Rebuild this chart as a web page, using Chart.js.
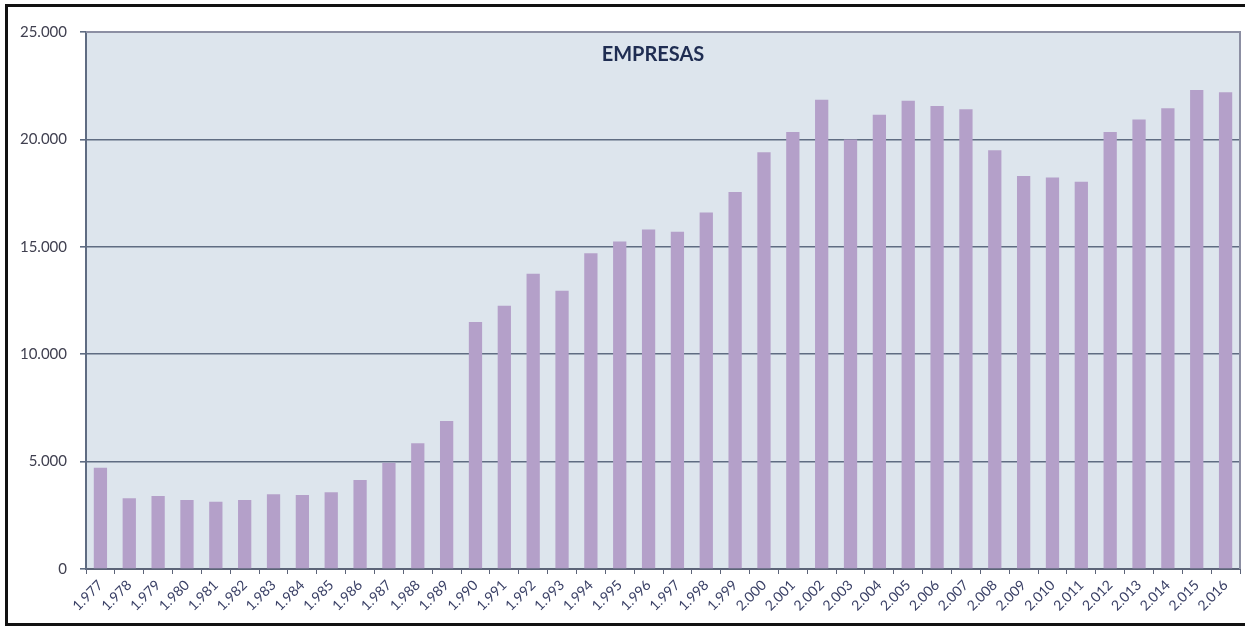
<!DOCTYPE html>
<html>
<head>
<meta charset="utf-8">
<script src="https://cdn.jsdelivr.net/npm/chart.js@4/dist/chart.umd.min.js"></script>
<style>
html,body{margin:0;padding:0;background:#fff;}
#wrap{width:1245px;height:627px;position:relative;}
</style>
</head>
<body>
<div id="wrap"><canvas id="c" width="1245" height="627"></canvas></div>
<script>
const years = ["1.977","1.978","1.979","1.980","1.981","1.982","1.983","1.984","1.985","1.986",
  "1.987","1.988","1.989","1.990","1.991","1.992","1.993","1.994","1.995","1.996",
  "1.997","1.998","1.999","2.000","2.001","2.002","2.003","2.004","2.005","2.006",
  "2.007","2.008","2.009","2.010","2.011","2.012","2.013","2.014","2.015","2.016"];
const empresas = [4715,3290,3400,3210,3135,3210,3475,3445,3570,4140,
  4950,5850,6890,11500,12250,13750,12950,14700,15250,15800,
  15700,16600,17550,19400,20350,21850,20000,21150,21800,21550,
  21400,19500,18300,18230,18030,20350,20930,21450,22300,22190];
const titleText = "EMPRESAS";

const bgPlugin = {
  id: 'bg',
  beforeDraw(chart) {
    const {ctx, chartArea: a} = chart;
    ctx.save();
    ctx.fillStyle = '#dde5ed';
    ctx.fillRect(a.left, a.top, a.right - a.left, a.bottom - a.top);
    ctx.restore();
  },
  afterDraw(chart) {
    const {ctx, chartArea: a} = chart;
    ctx.save();
    ctx.strokeStyle = '#8c8fa3';
    ctx.lineWidth = 2;
    ctx.beginPath();
    ctx.moveTo(a.left, a.top);
    ctx.lineTo(a.right, a.top);
    ctx.lineTo(a.right, a.bottom);
    ctx.stroke();
    ctx.fillStyle = '#1f2d52';
    ctx.font = 'bold 20px Lato, "Open Sans", sans-serif';
    ctx.textAlign = 'center';
    ctx.textBaseline = 'middle';
    ctx.fillText(titleText, 653, 55);
    ctx.strokeStyle = '#111';
    ctx.lineWidth = 3;
    ctx.beginPath();
    ctx.moveTo(1245, 5.5);
    ctx.lineTo(6.5, 5.5);
    ctx.lineTo(6.5, 624.5);
    ctx.lineTo(1245, 624.5);
    ctx.stroke();
    ctx.restore();
  }
};

new Chart(document.getElementById('c'), {
  type: 'bar',
  data: {
    labels: years,
    datasets: [{
      data: empresas,
      backgroundColor: '#b4a0c9',
      borderWidth: 0,
      categoryPercentage: 1,
      barPercentage: 0.46
    }]
  },
  options: {
    responsive: false,
    animation: false,
    layout: {padding: {left: 0, top: 32, right: 5, bottom: 0}},
    plugins: {legend: {display: false}, tooltip: {enabled: false}, title: {display: false}},
    scales: {
      x: {
        grid: {display: true, drawOnChartArea: false, drawTicks: true, tickLength: 5, offset: true, color: '#5c6478', lineWidth: 1},
        border: {display: true, color: '#5c6478', width: 2},
        ticks: {
          autoSkip: false, minRotation: 45, maxRotation: 45,
          color: '#3a4066', padding: 3,
          font: {family: 'Lato, "Open Sans", sans-serif', size: 14}
        },
        afterFit(scale) { scale.height = 58; }
      },
      y: {
        min: 0, max: 25000,
        grid: {color: '#5f6c82', lineWidth: 1.6, tickLength: 6, drawTicks: true},
        border: {display: true, color: '#5f6c82', width: 2},
        ticks: {
          stepSize: 5000, color: '#404050', padding: 13,
          font: {family: 'Lato, "Open Sans", sans-serif', size: 15},
          callback: v => v === 0 ? '0' : v.toLocaleString('de-DE')
        },
        afterFit(scale) { scale.width = 86; }
      }
    }
  },
  plugins: [bgPlugin]
});
</script>
</body>
</html>
